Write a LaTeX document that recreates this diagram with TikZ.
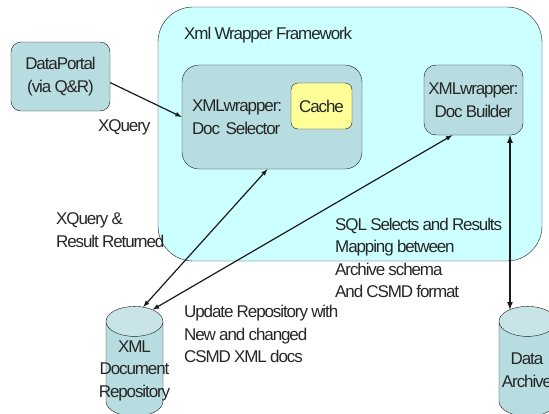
\documentclass[tikz,border=0pt]{standalone}
\usepackage{fontspec}
\setmainfont[LetterSpace=-6.5,WordSpace=0.9]{Liberation Sans}
\usepackage{tikz}
\usetikzlibrary{arrows,shapes.geometric}

\definecolor{framecyan}{HTML}{CCFFFF}
\definecolor{boxteal}{HTML}{B8DDE0}
\definecolor{topteal}{HTML}{C9E4E7}
\definecolor{cacheyellow}{HTML}{FFFF99}
\definecolor{lineink}{HTML}{1A1A1A}
\newcommand{\storefill}{\phantom{\rule{30pt}{45pt}}}

\begin{document}
\begin{tikzpicture}[x=1pt,y=-1pt,>=latex,
		every node/.style={font=\fontsize{17}{22.5}\selectfont,text=black!85,inner sep=0pt},
		box/.style={draw=lineink,fill=boxteal,rounded corners=#1,align=center},
		box/.default=10pt,
		store/.style={cylinder,shape border rotate=90,draw=lineink,aspect=1,minimum width=57pt,minimum height=110pt,
			cylinder uses custom fill,cylinder body fill=boxteal,cylinder end fill=topteal},
		note/.style={anchor=west,align=left},
		link/.style={line width=1.2pt,lineink}]
		
		\useasboundingbox (0,0) rectangle (549,413);
		
		\node[draw=lineink,fill=framecyan,rounded corners=35pt,minimum width=384pt,minimum height=254pt] (node-frame) at (350,134) {};
		\node[note] (node-title) at (184,35) {Xml Wrapper Framework};
		
		\node[box,minimum width=99pt,minimum height=69pt] (node-portal) at (60.5,76.5) {DataPortal\\(via Q\&R)};
		\node[box=17pt,minimum width=180pt,minimum height=104pt,text width=160pt,align=left] (node-selector) at (272,117) {XMLwrapper:\\Doc Selector};
		\node[box=7pt,fill=cacheyellow,minimum width=61pt,minimum height=46pt] (node-cache) at (321.5,106) {Cache};
		\node[box=12pt,minimum width=99pt,minimum height=70pt] (node-builder) at (473.5,100) {XMLwrapper:\\Doc Builder};
		
		\node[store] (node-repo) at (134.5,369) {\storefill};
		\node[store] (node-archive) at (527.5,369) {\storefill};
		\node[align=center] (node-repotext) at (134.5,370.5) {XML\\Document\\Repository};
		\node[align=center] (node-archivetext) at (527,370) {Data\\Archive};
		
		\node[note] (node-xquery) at (98,127) {XQuery};
		\node[note] (node-returned) at (56,230) {XQuery \&\\Result Returned};
		\node[note] (node-sql) at (335,258) {SQL Selects and Results\\Mapping between\\Archive schema\\And CSMD format};
		\node[note] (node-update) at (184,334) {Update Repository with\\New and changed\\CSMD XML docs};
		
		\draw [->,link] (node-portal.-7.5) -- (node-selector.west);
		\draw [<->,link] (node-selector.-95) -- (node-repo.82);
		\draw [<->,link] (node-builder.-121.6) -- (node-repo.73);
		\draw [<->,link,line width=1.6pt] (node-builder.-44.6) -- (node-archive.107 -| node-builder.-44.6);
		\end{tikzpicture}
\end{document}
